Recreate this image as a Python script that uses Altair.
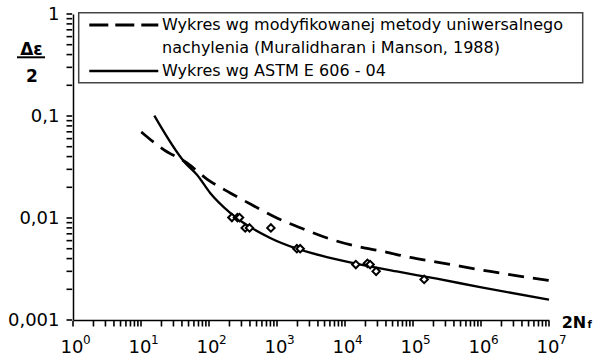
import altair as alt
import pandas as pd

# ---- data ----
# ASTM E 606-04 curve (solid)
astm_n = [15.7, 44.7, 66.5, 104, 205, 794, 1960, 5410, 14900, 57800, 224000, 969000, 10000000]
astm_e = [0.101, 0.0347, 0.0266, 0.0176, 0.0112, 0.00637, 0.0050, 0.00414, 0.00356, 0.00299, 0.00254, 0.0021, 0.00158]
# modified universal slopes curve (dashed)
mus_n = [10.1, 21.5, 47.4, 93.2, 205, 451, 996, 2450, 6050, 14900, 36700, 90600, 224000, 1370000, 10000000]
mus_e = [0.0698, 0.0468, 0.0347, 0.0241, 0.0176, 0.0132, 0.0100, 0.0078, 0.00622, 0.00527, 0.0047, 0.0041, 0.0037, 0.00299, 0.00244]
# experimental points
exp_n = [217, 262, 281, 341, 394, 813, 1960, 2193, 14430, 21380, 23400, 28700, 145900]
exp_e = [0.0101, 0.0101, 0.0101, 0.008, 0.008, 0.008, 0.005, 0.005, 0.0035, 0.0036, 0.0035, 0.003, 0.0025]

# axis ticks
x_major = [1, 10, 100, 1000, 10000, 100000, 1000000, 10000000]
x_major_base = ["10", "10", "10", "10", "10", "10", "10", "10"]
x_major_exp = ["0", "1", "2", "3", "4", "5", "6", "7"]
y_major = [0.001, 0.01, 0.1, 1]
y_major_labels = ["0,001", "0,01", "0,1", "1"]

leg1 = "Wykres wg modyfikowanej metody uniwersalnego"
leg2 = "nachylenia (Muralidharan i Manson, 1988)"
leg3 = "Wykres wg ASTM E 606 - 04"
y_title_top = "Δε"
y_title_bottom = "2"
x_title_main = "2N"
x_title_sub = "f"

# ---- build ----
x_ticks = [float(k * 10 ** d) for d in range(7) for k in range(1, 10)] + [1e7]
y_ticks = [round(k * 10.0 ** d, 10) for d in range(-3, 0) for k in range(1, 10)] + [1.0]


def label_expr(values, labels):
    expr = "''"
    for v, l in reversed(list(zip(values, labels))):
        expr = f"datum.value == {v} ? '{l}' : ({expr})"
    return expr


FONT = "DejaVu Sans"
H = 306

axis_common = dict(
    ticks=False, domain=True, domainColor="black", domainWidth=1.5,
    labelColor="black", labelFont=FONT, labelFontSize=18,
    labelOverlap=False, labelFlush=False, title="", grid=False,
)

x_enc = alt.X(
    "n:Q",
    scale=alt.Scale(type="log", domain=[1, 10 ** 7], nice=False),
    axis=alt.Axis(values=x_major, labels=False, **axis_common),
)
y_enc = alt.Y(
    "e:Q",
    scale=alt.Scale(type="log", domain=[0.001, 1], nice=False),
    axis=alt.Axis(values=y_major, labelExpr=label_expr(y_major, y_major_labels),
                  labelPadding=14, **axis_common),
)

astm_df = pd.DataFrame({"n": astm_n, "e": astm_e})
mus_df = pd.DataFrame({"n": mus_n, "e": mus_e})
exp_df = pd.DataFrame({"n": exp_n, "e": exp_e})
xt_df = pd.DataFrame({"n": x_ticks})
yt_df = pd.DataFrame({"e": y_ticks})
xl_df = pd.DataFrame({"n": x_major, "base": x_major_base, "exp": x_major_exp})

one = alt.Data(values=[{"a": 1}])

mus_line = alt.Chart(mus_df).mark_line(
    color="black", strokeWidth=2.8, strokeDash=[16, 9], interpolate="monotone"
).encode(x=x_enc, y=y_enc)
astm_line = alt.Chart(astm_df).mark_line(
    color="black", strokeWidth=2.3, interpolate="monotone"
).encode(x=x_enc, y=y_enc)
points = alt.Chart(exp_df).mark_point(
    shape="diamond", size=55, filled=True, fill="white", stroke="black", strokeWidth=2, opacity=1
).encode(x=x_enc, y=y_enc)

# tick marks (through the scales)
x_tick_marks = alt.Chart(xt_df).mark_rule(color="black", strokeWidth=1.6, opacity=1).encode(
    x=x_enc, y=alt.value(H + 0.8), y2=alt.value(H + 6.5))
y_tick_marks = alt.Chart(yt_df).mark_rule(color="black", strokeWidth=1.6, opacity=1).encode(
    y=y_enc, x=alt.value(-6.5), x2=alt.value(-0.8))
x_lab_base = alt.Chart(xl_df).mark_text(
    align="center", baseline="alphabetic", fontSize=18, font=FONT, color="black", dx=-1
).encode(x=x_enc, y=alt.value(H + 33), text="base:N")
x_lab_exp = alt.Chart(xl_df).mark_text(
    align="left", baseline="alphabetic", fontSize=12, font=FONT, color="black", dx=10
).encode(x=x_enc, y=alt.value(H + 24), text="exp:N")

# legend
box = alt.Chart(one).mark_rect(fill="white", stroke="#444444", strokeWidth=1.5).encode(
    x=alt.value(5.7), x2=alt.value(509.7), y=alt.value(-1.3), y2=alt.value(68.7))
leg_dash = alt.Chart(one).mark_rule(color="black", strokeWidth=3, strokeDash=[19, 7]).encode(
    x=alt.value(16.3), x2=alt.value(85.3), y=alt.value(11))
leg_solid = alt.Chart(one).mark_rule(color="black", strokeWidth=2.5).encode(
    x=alt.value(16.3), x2=alt.value(85.3), y=alt.value(57))


def txt(s, x, y, size=16, weight="normal", align="left"):
    return alt.Chart(one).mark_text(
        align=align, baseline="alphabetic", fontSize=size, font=FONT, fontWeight=weight, color="black"
    ).encode(x=alt.value(x), y=alt.value(y), text=alt.value(s))


t1 = txt(leg1, 89, 16)
t2 = txt(leg2, 89, 39.3)
t3 = txt(leg3, 89, 62)

# axis titles
yt1 = txt(y_title_top, -41.5, 41, size=17, weight="bold", align="center")
ybar = alt.Chart(one).mark_rule(color="black", strokeWidth=2).encode(
    x=alt.value(-56), x2=alt.value(-28), y=alt.value(43.3))
yt2 = txt(y_title_bottom, -41, 68, size=17, weight="bold", align="center")
xt1 = txt(x_title_main, 488.7, 314, size=16, weight="bold")
xt2 = txt(x_title_sub, 514.5, 314, size=10, weight="bold")

chart = alt.layer(
    mus_line, astm_line, points, x_tick_marks, y_tick_marks, x_lab_base, x_lab_exp,
    box, leg_dash, leg_solid, t1, t2, t3, yt1, ybar, yt2, xt1, xt2
).properties(
    width=476, height=H,
    autosize=alt.AutoSizeParams(type="none"),
    padding={"left": 73, "top": 14, "right": 58, "bottom": 42},
    background="white",
).configure_view(strokeWidth=0)

chart.save("out.html", embed_options={"renderer": "svg", "actions": False})
